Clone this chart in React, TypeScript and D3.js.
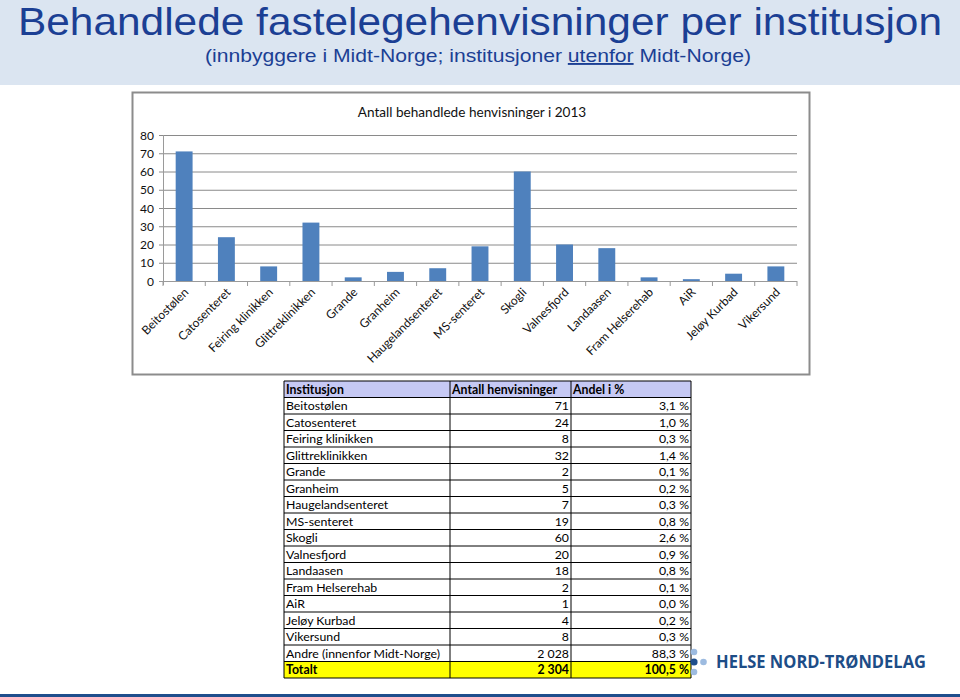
import React, { useEffect } from 'react';
import * as d3 from 'd3';

const institutions = [
  'Beitostølen', 'Catosenteret', 'Feiring klinikken', 'Glittreklinikken', 'Grande',
  'Granheim', 'Haugelandsenteret', 'MS-senteret', 'Skogli', 'Valnesfjord',
  'Landaasen', 'Fram Helserehab', 'AiR', 'Jeløy Kurbad', 'Vikersund',
];
const referrals = [71, 24, 8, 32, 2, 5, 7, 19, 60, 20, 18, 2, 1, 4, 8];
const shares = ['3,1 %', '1,0 %', '0,3 %', '1,4 %', '0,1 %', '0,2 %', '0,3 %', '0,8 %', '2,6 %', '0,9 %', '0,8 %', '0,1 %', '0,0 %', '0,2 %', '0,3 %'];
const yTicks = [0, 10, 20, 30, 40, 50, 60, 70, 80];
const otherRow = ['Andre (innenfor Midt-Norge)', '2 028', '88,3 %'];
const totalRow = ['Totalt', '2 304', '100,5 %'];
const tableHeader = ['Institusjon', 'Antall henvisninger', 'Andel i %'];

const W = 960;
const H = 697;
const calibri = 'Lato, "Open Sans", sans-serif';
const arial = '"Liberation Sans", Arial, sans-serif';

const App = () => {
  useEffect(() => {
    document.body.style.margin = '0';
  }, []);

  // chart geometry
  const plot = { left: 163, right: 797, top: 135, bottom: 281 };
  const x = d3.scaleBand<string>()
    .domain(institutions)
    .range([plot.left, plot.right])
    .paddingInner(0.6)
    .paddingOuter(0.3);
  const y = d3.scaleLinear().domain([0, 80]).range([plot.bottom, plot.top]);
  const step = x.step();
  const boundaries = d3.range(institutions.length + 1).map(i => plot.left + i * step);

  // table geometry
  const cols = [284, 450, 571, 691];
  const tTop = 381;
  const rowH = 16.5;
  const rows = [
    ...institutions.map((n, i) => [n, String(referrals[i]), shares[i]]),
    otherRow,
  ];

  return (
    <svg width={W} height={H} style={{ display: 'block' }}>
      <rect x={0} y={0} width={W} height={H} fill="#ffffff" />
      {/* header band */}
      <rect x={0} y={0} width={W} height={85} fill="#dbe5f1" />
      <text x={480} y={34.5} textAnchor="middle" fontFamily={arial} fontSize={39} fill="#1b3f94"
        textLength={924} lengthAdjust="spacingAndGlyphs">
        Behandlede fastelegehenvisninger per institusjon
      </text>
      <text x={478} y={62} textAnchor="middle" fontFamily={arial} fontSize={19} fill="#1b3f94"
        textLength={546} lengthAdjust="spacingAndGlyphs">
        (innbyggere i Midt-Norge; institusjoner <tspan style={{ textDecoration: 'underline' }}>utenfor</tspan> Midt-Norge)
      </text>

      {/* chart box */}
      <rect x={132.5} y={92.5} width={677} height={282} fill="#ffffff" stroke="#8c8c8c" strokeWidth={2} />
      <text x={472} y={117} textAnchor="middle" fontFamily={calibri} fontSize={13.6} fill="#111">
        Antall behandlede henvisninger i 2013
      </text>

      {yTicks.map(t => (
        <g key={t}>
          <line x1={plot.left - 4} x2={plot.right} y1={y(t) + 0.5} y2={y(t) + 0.5}
            stroke={t === 0 ? '#9a9a9a' : '#8a8a8a'} strokeWidth={1} />
          <text x={154} y={y(t) + 4.5} textAnchor="end" fontFamily={calibri} fontSize={12} fill="#111">{t}</text>
        </g>
      ))}
      <line x1={plot.left + 0.5} x2={plot.left + 0.5} y1={plot.top} y2={plot.bottom + 4} stroke="#9a9a9a" />
      {boundaries.map((b, i) => (
        <line key={i} x1={b} x2={b} y1={plot.bottom} y2={plot.bottom + 5} stroke="#9a9a9a" />
      ))}

      {institutions.map((n, i) => (
        <rect key={n} x={x(n)} y={y(referrals[i])} width={x.bandwidth()}
          height={y(0) - y(referrals[i])} fill="#4f81bd" />
      ))}

      {institutions.map(n => {
        const cx = (x(n) as number) + x.bandwidth() / 2 + 5;
        const cy = plot.bottom + 12;
        return (
          <text key={n} transform={`translate(${cx},${cy}) rotate(-45)`} textAnchor="end"
            fontFamily={calibri} fontSize={12} fill="#111">{n}</text>
        );
      })}

      {/* table */}
      <rect x={cols[0]} y={tTop} width={cols[3] - cols[0]} height={rowH} fill="#c6c9f4" />
      <rect x={cols[0]} y={tTop + rowH * (rows.length + 1)} width={cols[3] - cols[0]} height={rowH} fill="#ffff00" />
      {[tableHeader, ...rows, totalRow].map((r, ri) => {
        const bold = ri === 0 || ri === rows.length + 1;
        const ty = tTop + ri * rowH + 12.5;
        return (
          <g key={ri} fontFamily={calibri} fontSize={12.3} fill="#000" fontWeight={bold ? 700 : 400}>
            <text x={cols[0] + 2} y={ty}>{r[0]}</text>
            {ri === 0 ? (
              <>
                <text x={cols[1] + 2} y={ty}>{r[1]}</text>
                <text x={cols[2] + 2} y={ty}>{r[2]}</text>
              </>
            ) : (
              <>
                <text x={cols[2] - 2} y={ty} textAnchor="end">{r[1]}</text>
                <text x={cols[3] - 2} y={ty} textAnchor="end">{r[2]}</text>
              </>
            )}
          </g>
        );
      })}
      {d3.range(rows.length + 3).map(i => (
        <line key={i} x1={cols[0]} x2={cols[3]} y1={tTop + i * rowH} y2={tTop + i * rowH} stroke="#000" strokeWidth={1} />
      ))}
      {cols.map((c, i) => (
        <line key={i} x1={c} x2={c} y1={tTop} y2={tTop + rowH * (rows.length + 2)} stroke="#000" strokeWidth={1} />
      ))}

      {/* logo */}
      <circle cx={694} cy={652} r={3.3} fill="#9dbbe0" />
      <circle cx={694} cy={662} r={3.6} fill="#1f4e8c" />
      <circle cx={703.5} cy={662} r={3.3} fill="#9dbbe0" />
      <circle cx={694} cy={672} r={3.3} fill="#9dbbe0" />
      <text x={716} y={668} fontFamily={'"Open Sans", sans-serif'} fontWeight={700} fontSize={17} fill="#1d4d87"
        textLength={210} lengthAdjust="spacingAndGlyphs">HELSE NORD-TRØNDELAG</text>
      <rect x={0} y={694} width={W} height={3} fill="#1f4e8c" />
    </svg>
  );
};

export default App;
